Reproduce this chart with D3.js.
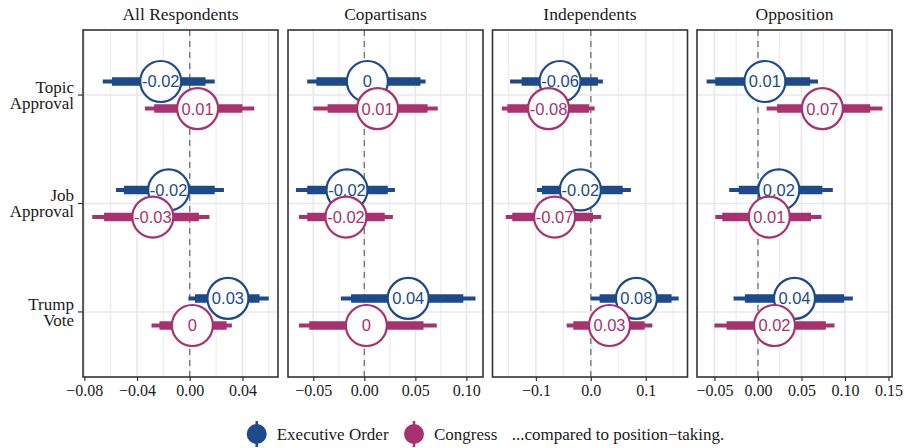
<!DOCTYPE html>
<html>
<head>
<meta charset="utf-8">
<script src="https://cdn.jsdelivr.net/npm/d3@7"></script>
<style>
  body { margin: 0; background: #fff; }
  svg { display: block; }
  .serif { font-family: "Liberation Serif", "Times New Roman", serif; fill: #1a1a1a; }
  .est { font-family: "Liberation Sans", Arial, sans-serif; font-size: 16.5px; }
</style>
</head>
<body>
<div id="chart"></div>
<script>
// facets, rows and groups
var panels = ["All Respondents", "Copartisans", "Independents", "Opposition"];
var outcomes = [["Topic", "Approval"], ["Job", "Approval"], ["Trump", "Vote"]];
var groups = ["Executive Order", "Congress"];
var colors = ["#1d4a8b", "#a8326f"];

// estimates, one row per panel: Topic, Job, Trump
var eoEst = [
  [-0.022, -0.016, 0.029],
  [0.003, -0.017, 0.043],
  [-0.056, -0.019, 0.083],
  [0.008, 0.024, 0.042]
];
var eoCI95 = [
  [[-0.066, 0.019], [-0.056, 0.026], [-0.001, 0.060]],
  [[-0.056, 0.060], [-0.067, 0.030], [-0.023, 0.109]],
  [[-0.147, 0.022], [-0.098, 0.073], [0.000, 0.160]],
  [[-0.059, 0.069], [-0.033, 0.086], [-0.028, 0.109]]
];
var eoCI90 = [
  [[-0.059, 0.012], [-0.050, 0.019], [0.004, 0.053]],
  [[-0.047, 0.055], [-0.056, 0.023], [-0.013, 0.097]],
  [[-0.126, 0.013], [-0.089, 0.058], [0.016, 0.147]],
  [[-0.049, 0.060], [-0.022, 0.074], [-0.015, 0.099]]
];
var congEst = [
  [0.006, -0.028, 0.002],
  [0.013, -0.018, 0.002],
  [-0.077, -0.066, 0.034],
  [0.074, 0.013, 0.019]
];
var congCI95 = [
  [[-0.034, 0.049], [-0.074, 0.015], [-0.029, 0.032]],
  [[-0.050, 0.072], [-0.064, 0.028], [-0.064, 0.071]],
  [[-0.162, 0.007], [-0.155, 0.019], [-0.044, 0.112]],
  [[0.010, 0.143], [-0.049, 0.073], [-0.050, 0.088]]
];
var congCI90 = [
  [[-0.027, 0.040], [-0.065, 0.007], [-0.023, 0.028]],
  [[-0.036, 0.062], [-0.056, 0.020], [-0.054, 0.058]],
  [[-0.152, -0.003], [-0.143, 0.004], [-0.032, 0.098]],
  [[0.022, 0.129], [-0.041, 0.061], [-0.036, 0.078]]
];

// axes
var xDomains = [[-0.081, 0.067], [-0.0748, 0.1163], [-0.179, 0.176], [-0.070, 0.154]];
var xTicks = [[-0.08, -0.04, 0, 0.04], [-0.05, 0, 0.05, 0.10], [-0.1, 0, 0.1], [-0.05, 0, 0.05, 0.10, 0.15]];
var xTickLabels = [
  ["\u22120.08", "\u22120.04", "0.00", "0.04"],
  ["\u22120.05", "0.00", "0.05", "0.10"],
  ["\u22120.1", "0.0", "0.1"],
  ["\u22120.05", "0.00", "0.05", "0.10", "0.15"]
];
var xMinor = [[-0.06, -0.02, 0.02, 0.06], [-0.025, 0.025, 0.075], [-0.15, -0.05, 0.05, 0.15], [-0.025, 0.025, 0.075, 0.125]];

var width = 908, height = 448;
var panelLefts = [83, 288, 492.5, 697];
var panelW = 195;
var plotTop = 30, plotBottom = 377;
var circR = 20.5;

var svg = d3.select("#chart").append("svg")
  .attr("width", width).attr("height", height);

// rows 1..3 with ggplot style discrete expansion
var yScale = d3.scaleLinear().domain([0.4, 3.6]).range([plotTop, plotBottom]);
var dodge = [-0.125, 0.125];

function fmt(v) {
  var r = Math.round(v * 100) / 100;
  return r === 0 ? "0" : String(r);
}

panels.forEach(function(name, p) {
  var left = panelLefts[p];
  var x = d3.scaleLinear().domain(xDomains[p]).range([left, left + panelW]);
  var g = svg.append("g").attr("class", "panel");

  // grid
  g.selectAll(".minor").data(xMinor[p]).enter().append("line")
    .attr("x1", function(d) { return x(d); }).attr("x2", function(d) { return x(d); })
    .attr("y1", plotTop).attr("y2", plotBottom)
    .attr("stroke", "#ededed").attr("stroke-width", 1.2);
  g.selectAll(".major").data(xTicks[p]).enter().append("line")
    .attr("x1", function(d) { return x(d); }).attr("x2", function(d) { return x(d); })
    .attr("y1", plotTop).attr("y2", plotBottom)
    .attr("stroke", "#e8e8e8").attr("stroke-width", 1.6);
  g.selectAll(".hgrid").data(outcomes).enter().append("line")
    .attr("x1", left).attr("x2", left + panelW)
    .attr("y1", function(d, i) { return yScale(i + 1); })
    .attr("y2", function(d, i) { return yScale(i + 1); })
    .attr("stroke", "#e8e8e8").attr("stroke-width", 1.6);

  // zero line
  g.append("line")
    .attr("x1", x(0)).attr("x2", x(0)).attr("y1", plotTop).attr("y2", plotBottom)
    .attr("stroke", "#7a7a7a").attr("stroke-width", 1.4)
    .attr("stroke-dasharray", "6,5");

  // rows of data for this panel
  var rows = [];
  outcomes.forEach(function(o, i) {
    rows.push({ g: 0, i: i, est: eoEst[p][i], ci95: eoCI95[p][i], ci90: eoCI90[p][i] });
    rows.push({ g: 1, i: i, est: congEst[p][i], ci95: congCI95[p][i], ci90: congCI90[p][i] });
  });
  function yPos(d) { return yScale(d.i + 1 + dodge[d.g]); }

  g.selectAll(".thin").data(rows).enter().append("line")
    .attr("x1", function(d) { return x(d.ci95[0]); })
    .attr("x2", function(d) { return x(d.ci95[1]); })
    .attr("y1", yPos).attr("y2", yPos)
    .attr("stroke", function(d) { return colors[d.g]; })
    .attr("stroke-width", 4);
  g.selectAll(".thick").data(rows).enter().append("line")
    .attr("x1", function(d) { return x(d.ci90[0]); })
    .attr("x2", function(d) { return x(d.ci90[1]); })
    .attr("y1", yPos).attr("y2", yPos)
    .attr("stroke", function(d) { return colors[d.g]; })
    .attr("stroke-width", 8.5);

  var pts = g.selectAll(".pt").data(rows).enter().append("g")
    .attr("transform", function(d) { return "translate(" + x(d.est) + "," + yPos(d) + ")"; });
  pts.append("circle")
    .attr("r", circR)
    .attr("fill", "#fff")
    .attr("stroke", function(d) { return colors[d.g]; })
    .attr("stroke-width", 2.2);
  pts.append("text")
    .attr("class", "est")
    .attr("text-anchor", "middle")
    .attr("dy", "0.36em")
    .attr("fill", function(d) { return colors[d.g]; })
    .text(function(d) { return fmt(d.est); });

  // frame
  g.append("rect")
    .attr("x", left).attr("y", plotTop).attr("width", panelW).attr("height", plotBottom - plotTop)
    .attr("fill", "none").attr("stroke", "#333").attr("stroke-width", 1.6);

  // x axis
  var xAxis = d3.axisBottom(x)
    .tickValues(xTicks[p])
    .tickFormat(function(d, j) { return xTickLabels[p][j]; })
    .tickSize(4).tickSizeOuter(0).tickPadding(4);
  var ax = svg.append("g").attr("transform", "translate(0," + plotBottom + ")").call(xAxis);
  ax.select(".domain").remove();
  ax.selectAll("line").attr("stroke", "#333").attr("stroke-width", 1.2);
  ax.selectAll("text").attr("class", "serif").attr("font-size", 16).attr("fill", "#1a1a1a");

  // strip title
  svg.append("text").attr("class", "serif")
    .attr("x", left + panelW / 2).attr("y", 20)
    .attr("text-anchor", "middle").attr("font-size", 17.5)
    .text(name);
});

// y axis ticks and labels
outcomes.forEach(function(o, i) {
  var y = yScale(i + 1);
  svg.append("line").attr("x1", 78).attr("x2", 83).attr("y1", y).attr("y2", y)
    .attr("stroke", "#333").attr("stroke-width", 1.2);
  var t = svg.append("text").attr("class", "serif").attr("text-anchor", "end")
    .attr("font-size", 17);
  t.append("tspan").attr("x", 74).attr("y", y - 2.3).text(o[0]);
  t.append("tspan").attr("x", 74).attr("y", y + 13.8).text(o[1]);
});

// legend
var legX = [256.7, 414];
var legendY = 434;
groups.forEach(function(name, k) {
  var lg = svg.append("g").attr("transform", "translate(" + legX[k] + "," + legendY + ")");
  lg.append("line").attr("y1", -13).attr("y2", 13)
    .attr("stroke", colors[k]).attr("stroke-width", 2.5);
  lg.append("circle").attr("r", 10).attr("fill", colors[k]);
  lg.append("text").attr("class", "serif").attr("x", 20).attr("dy", "0.35em")
    .attr("font-size", 17).text(name);
});
svg.append("text").attr("class", "serif")
  .attr("x", 511.7).attr("y", legendY).attr("dy", "0.35em")
  .attr("font-size", 17).text("...compared to position\u2212taking.");
</script>
</body>
</html>
